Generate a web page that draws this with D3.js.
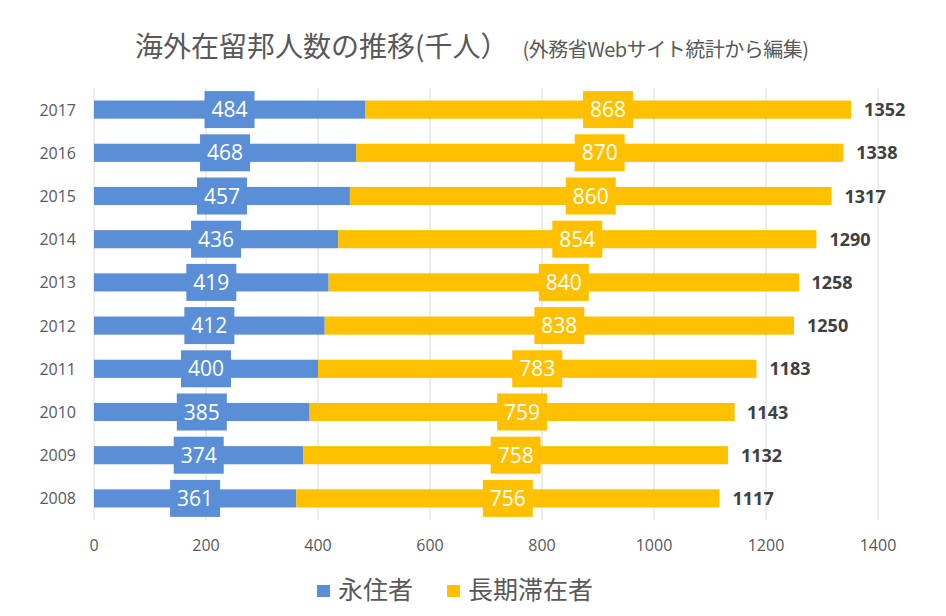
<!DOCTYPE html>
<html><head><meta charset="utf-8">
<script src="https://cdn.jsdelivr.net/npm/d3@7"></script>
<style>body{margin:0;background:#fff;}svg{display:block;font-family:"Noto Sans CJK JP","Open Sans",sans-serif;}</style>
</head><body>
<svg id="c" width="946" height="616"></svg>
<script>
const years = ["2008","2009","2010","2011","2012","2013","2014","2015","2016","2017"];
const permanent = [361,374,385,400,412,419,436,457,468,484];
const longStay = [756,758,759,783,838,840,854,860,870,868];
const totals = [1117,1132,1143,1183,1250,1258,1290,1317,1338,1352];
const xTicks = [0,200,400,600,800,1000,1200,1400];
const seriesNames = ["永住者","長期滞在者"];
const colors = ["#5A8FD8","#FFC000"];

const svg = d3.select("#c");
const x = d3.scaleLinear().domain([0,1400]).range([94,878]);
const y = d3.scaleBand().domain(years.slice().reverse()).range([88,520]).paddingInner(0.58).paddingOuter(0.29);

// gridlines
svg.append("g").selectAll("line").data(xTicks).join("line")
  .attr("x1",d=>x(d)).attr("x2",d=>x(d)).attr("y1",88).attr("y2",520)
  .attr("stroke","#d9d9d9").attr("stroke-width",1);

// x tick labels
svg.append("g").selectAll("text").data(xTicks).join("text")
  .attr("x",d=>x(d)).attr("y",551).attr("text-anchor","middle")
  .attr("font-size",16).attr("fill","#595959").attr("font-family","Open Sans, sans-serif").text(d=>d);

// year labels
svg.append("g").selectAll("text").data(years).join("text")
  .attr("x",76).attr("y",d=>y(d)+y.bandwidth()/2+6).attr("text-anchor","end")
  .attr("font-size",16).attr("fill","#595959").attr("font-family","Open Sans, sans-serif").text(d=>d);

const rows = years.map((yr,i)=>({yr, a:permanent[i], b:longStay[i], t:totals[i]}));
const g = svg.append("g");
// bars
g.selectAll("rect.a").data(rows).join("rect").attr("class","a")
  .attr("x",x(0)).attr("y",d=>y(d.yr)).attr("width",d=>x(d.a)-x(0)).attr("height",y.bandwidth()).attr("fill",colors[0]);
g.selectAll("rect.b").data(rows).join("rect").attr("class","b")
  .attr("x",d=>x(d.a)).attr("y",d=>y(d.yr)).attr("width",d=>x(d.a+d.b)-x(d.a)).attr("height",y.bandwidth()).attr("fill",colors[1]);

// label boxes
const boxW=50, boxH=37;
g.selectAll("rect.la").data(rows).join("rect").attr("class","la")
  .attr("x",d=>x(d.a/2)-boxW/2).attr("y",d=>y(d.yr)+y.bandwidth()/2-boxH/2).attr("width",boxW).attr("height",boxH).attr("fill",colors[0]);
g.selectAll("rect.lb").data(rows).join("rect").attr("class","lb")
  .attr("x",d=>x(d.a+d.b/2)-boxW/2).attr("y",d=>y(d.yr)+y.bandwidth()/2-boxH/2).attr("width",boxW).attr("height",boxH).attr("fill",colors[1]);
g.selectAll("text.ta").data(rows).join("text").attr("class","ta")
  .attr("x",d=>x(d.a/2)).attr("y",d=>y(d.yr)+y.bandwidth()/2+7.5).attr("text-anchor","middle")
  .attr("font-size",21).attr("fill","#fff").attr("font-family","Open Sans, sans-serif").text(d=>d.a);
g.selectAll("text.tb").data(rows).join("text").attr("class","tb")
  .attr("x",d=>x(d.a+d.b/2)).attr("y",d=>y(d.yr)+y.bandwidth()/2+7.5).attr("text-anchor","middle")
  .attr("font-size",21).attr("fill","#fff").attr("font-family","Open Sans, sans-serif").text(d=>d.b);
g.selectAll("text.tt").data(rows).join("text").attr("class","tt")
  .attr("x",d=>x(d.t)+13).attr("y",d=>y(d.yr)+y.bandwidth()/2+6.5).attr("text-anchor","start")
  .attr("font-size",18).attr("font-weight","bold").attr("fill","#404040").attr("font-family","Open Sans, sans-serif").text(d=>d.t);

// title
const title = svg.append("text").attr("x",135).attr("y",57).attr("fill","#595959");
title.append("tspan").attr("font-size",28).text("海外在留邦人数の推移(千人）");
title.append("tspan").attr("font-size",20).attr("dx",14).attr("letter-spacing",-0.5).text("(外務省Webサイト統計から編集)");

// legend
const leg = svg.append("g");
const lx = [317,447];
seriesNames.forEach((n,i)=>{
  leg.append("rect").attr("x",lx[i]).attr("y",585).attr("width",13).attr("height",12).attr("fill",colors[i]);
  leg.append("text").attr("x",lx[i]+21).attr("y",599).attr("font-size",25).attr("fill","#595959").text(n);
});
</script>
</body></html>
